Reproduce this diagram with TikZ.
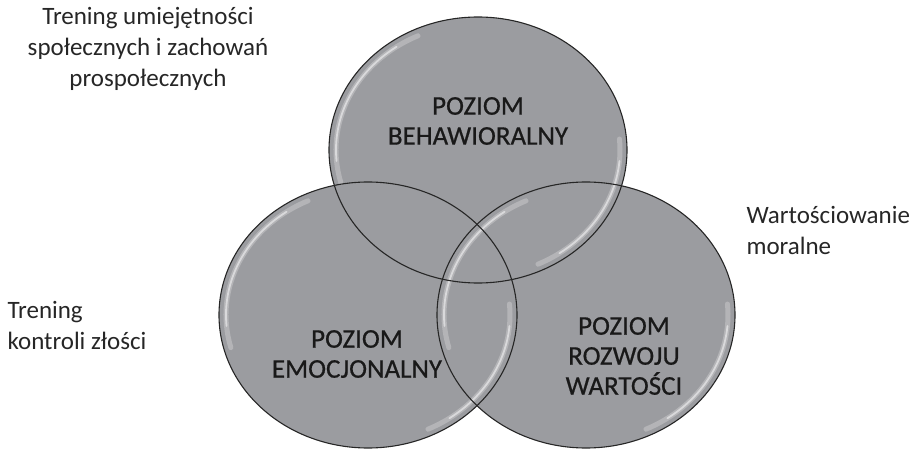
\documentclass[tikz,border=0pt]{standalone}
\usepackage{fontspec}
\setmainfont{Carlito}
\newfontfamily\vennfont{Carlito}[FakeBold=0.6]
\definecolor{venngray}{RGB}{155,156,160}
\tikzset{
  vennline/.style={draw=black!85, line width=1.1pt},
  shine/.style={white, opacity=0.25, line width=5pt, line cap=round},
  shinecore/.style={white, opacity=0.5, line width=1.8pt, line cap=round},
  inlabel/.style={align=center, font=\vennfont\fontsize{27}{30}\selectfont, text=black!90},
  outlabel/.style={align=left, font=\fontsize{25}{31}\selectfont, text=black!85}
}

\begin{document}
\begin{tikzpicture}[x=1pt,y=1pt]
\useasboundingbox (0,0) rectangle (913,448);
\coordinate (beh) at (478,298);
\coordinate (emo) at (368,133);
\coordinate (war) at (586,133);
% circles
\foreach \c in {beh,emo,war}
  \fill [venngray] (\c) ellipse [x radius=149, y radius=133];
\foreach \c in {beh,emo,war} {
  \draw [shine] (\c) ++(115:142pt and 126pt) arc [start angle=115, end angle=195, x radius=142pt, y radius=126pt];
  \draw [shine] (\c) ++(-65:142pt and 126pt) arc [start angle=-65, end angle=5, x radius=142pt, y radius=126pt];
  \draw [shinecore] (\c) ++(125:142pt and 126pt) arc [start angle=125, end angle=185, x radius=142pt, y radius=126pt];
  \draw [shinecore] (\c) ++(-55:142pt and 126pt) arc [start angle=-55, end angle=-5, x radius=142pt, y radius=126pt];
}
\foreach \c in {beh,emo,war}
  \draw [vennline] (\c) ellipse [x radius=149, y radius=133];
% labels inside
\node (behlabel) [inlabel] at (478,327) {POZIOM\\BEHAWIORALNY};
\node (emolabel) [inlabel] at (357,94) {POZIOM\\EMOCJONALNY};
\node (warlabel) [inlabel] at (624,92) {POZIOM\\ROZWOJU\\WARTOŚCI};
% labels outside
\node (social) [outlabel, align=center] at (148,399) {Trening umiejętności\\społecznych i zachowań\\prospołecznych};
\node (moral) [outlabel, anchor=west] at (743,218) {Wartościowanie\\moralne};
\node (anger) [outlabel, anchor=west] at (4,123) {Trening\\kontroli złości};
\end{tikzpicture}
\end{document}
